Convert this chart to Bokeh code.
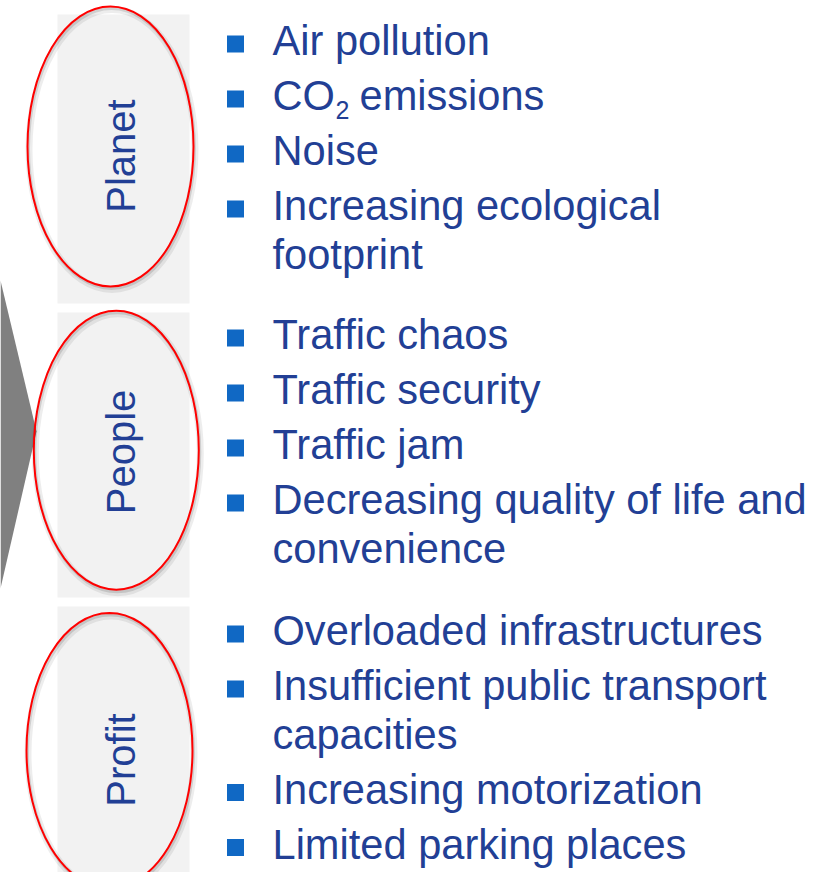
import numpy as np
from bokeh.plotting import figure
from bokeh.models import Range1d
from bokeh.core.properties import value
from bokeh.embed import file_html
from bokeh.resources import INLINE

# ---- content ----
groups = ["Planet", "People", "Profit"]
planet_items = [["Air pollution"], ["CO2 emissions"], ["Noise"],
                ["Increasing ecological", "footprint"]]
people_items = [["Traffic chaos"], ["Traffic security"], ["Traffic jam"],
                ["Decreasing quality of life and", "convenience"]]
profit_items = [["Overloaded infrastructures"],
                ["Insufficient public transport", "capacities"],
                ["Increasing motorization"], ["Limited parking places"]]
group_items = [planet_items, people_items, profit_items]

# ---- layout (reference pixel coordinates, origin top-left) ----
W, H = 817, 872
def Y(ry):
    return -ry

FS = 41.6          # item font size (px)
LFS = 40           # label font size (px)
SFS = 25           # subscript font size (px)
BASE_FIX = 0.36    # rendered baseline sits this many em below the anchor

first_baseline = [55, 349, 645]
item_step = 55
wrap_step = 48.5
label_center_y = [155.5, 451.5, 759.5]
label_baseline_x = 135
ellipse_cx = [110, 115.8, 109]
ellipse_cy = [146, 449.7, 750]
ellipse_w = [166, 165, 166]
ellipse_h = [280, 279, 275]
panel_top = [14, 312, 606]
panel_bottom = [303, 597, 888]
panel_left, panel_right = 57, 189
text_x = 272
bullet_x = 235
bullet_size = 17

TEXT_COLOR = "#223f95"
BULLET_COLOR = "#1068c4"
FONT = value("Liberation Sans")

p = figure(width=W, height=H, output_backend="svg", toolbar_location=None,
           x_range=Range1d(0, W), y_range=Range1d(-H, 0), min_border=0)
p.xaxis.visible = False
p.yaxis.visible = False
p.grid.visible = False
p.outline_line_color = None
p.background_fill_color = "white"
p.border_fill_color = "white"

# grey arrow tip on the left
p.patch(x=[0, 36, 0], y=[Y(280), Y(431), Y(588)], fill_color="#808080",
        line_color=None)

# grey panels
p.quad(left=[panel_left] * 3, right=[panel_right] * 3,
       top=[Y(t) for t in panel_top], bottom=[Y(b) for b in panel_bottom],
       fill_color="#f2f2f2", line_color=None)

# ellipse shadows
for dx, dy, a, lw in [(1.5, 3, 0.07, 7), (1, 2, 0.12, 3)]:
    p.ellipse(x=[c + dx for c in ellipse_cx], y=[Y(c + dy) for c in ellipse_cy],
              width=ellipse_w, height=ellipse_h, fill_color=None,
              line_color="black", line_alpha=a, line_width=lw)
# red ellipses
p.ellipse(x=ellipse_cx, y=[Y(c) for c in ellipse_cy], width=ellipse_w,
          height=ellipse_h, fill_color=None, line_color="#ff0000", line_width=2)

# vertical group labels (reading bottom to top)
p.text(x=[label_baseline_x - BASE_FIX * LFS] * 3,
       y=[Y(c) for c in label_center_y], text=groups,
       angle=np.pi / 2, text_align="center", text_baseline="alphabetic",
       text_font=FONT, text_font_size=f"{LFS}px", text_color=TEXT_COLOR)

# bullets and items
bx, by = [], []
tx, ty, tt = [], [], []
for g, items in enumerate(group_items):
    base = first_baseline[g]
    for lines in items:
        bx.append(bullet_x)
        by.append(Y(base - 11.5))
        for k, line in enumerate(lines):
            if line.startswith("CO2"):
                p.text(x=[text_x], y=[Y(base - BASE_FIX * FS)], text=["CO"],
                       text_font=FONT, text_font_size=f"{FS}px",
                       text_color=TEXT_COLOR, text_baseline="alphabetic")
                p.text(x=[text_x + 63], y=[Y(base + 8 - BASE_FIX * SFS)], text=["2"],
                       text_font=FONT, text_font_size=f"{SFS}px",
                       text_color=TEXT_COLOR, text_baseline="alphabetic")
                p.text(x=[text_x + 87], y=[Y(base - BASE_FIX * FS)], text=[line[4:]],
                       text_font=FONT, text_font_size=f"{FS}px",
                       text_color=TEXT_COLOR, text_baseline="alphabetic")
            else:
                tx.append(text_x)
                ty.append(Y(base - BASE_FIX * FS))
                tt.append(line)
            if k < len(lines) - 1:
                base += wrap_step
        base += item_step

p.rect(x=bx, y=by, width=bullet_size, height=bullet_size,
       fill_color=BULLET_COLOR, line_color=None)
p.text(x=tx, y=ty, text=tt, text_font=FONT, text_font_size=f"{FS}px",
       text_color=TEXT_COLOR, text_baseline="alphabetic", text_align="left")

open("out.html", "w").write(file_html(p, INLINE))
